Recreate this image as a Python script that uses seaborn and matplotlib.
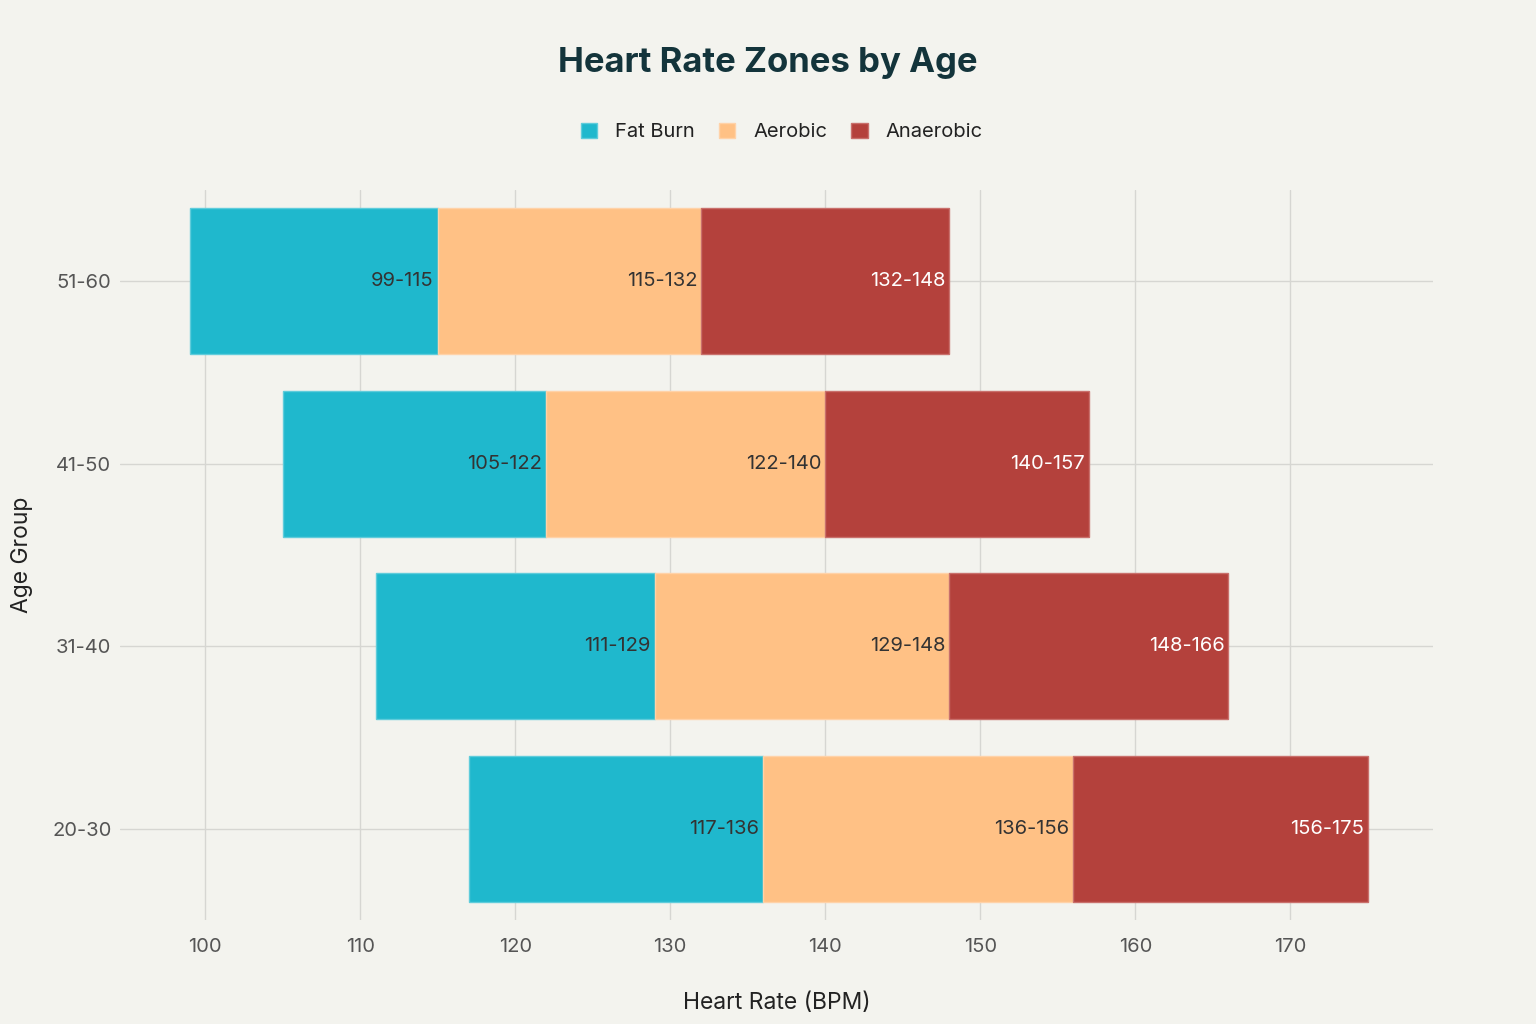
import seaborn as sns
import matplotlib.pyplot as plt
from matplotlib.patches import Patch

age_groups = ['20-30', '31-40', '41-50', '51-60']
fat_burn_low = [117, 111, 105, 99]
fat_burn_high = [136, 129, 122, 115]
aerobic_high = [156, 148, 140, 132]
anaerobic_high = [175, 166, 157, 148]

zones = ['Fat Burn', 'Aerobic', 'Anaerobic']
colors = ['#1FB8CD', '#FFC185', '#B4413C']
edges = ['#5FCCDB', '#FFD2A8', '#C9706C']
text_colors = ['#333333', '#333333', '#FFFFFF']

bg = '#F3F3EE'
sns.set_theme(style='whitegrid')
plt.rcParams['font.family'] = ['Inter', 'DejaVu Sans']

fig = plt.figure(figsize=(15.36, 10.24), dpi=100, facecolor=bg)
ax = fig.add_axes([0.078, 0.1016, 0.855, 0.713])
ax.set_facecolor(bg)

bounds = [fat_burn_low, fat_burn_high, aerobic_high, anaerobic_high]
ypos = list(range(len(age_groups)))
for i in range(3):
    lo = bounds[i]
    hi = bounds[i + 1]
    widths = [h - l for l, h in zip(lo, hi)]
    ax.barh(ypos, widths, left=lo, height=0.8, color=colors[i],
            edgecolor=edges[i], linewidth=1, zorder=3)
    for y, l, h in zip(ypos, lo, hi):
        ax.text(h - 0.25, y, f'{l}-{h}', ha='right', va='center',
                fontsize=14.5, color=text_colors[i], zorder=4)

ax.set_xlim(94.5, 179.2)
ax.set_ylim(-0.5, 3.5)
ax.set_xticks([100, 110, 120, 130, 140, 150, 160, 170])
ax.set_yticks(ypos)
ax.set_yticklabels(age_groups)
ax.tick_params(axis='both', labelsize=14.5, colors='#555555', length=0, pad=6)
ax.tick_params(axis='x', pad=13)
ax.grid(True, color='#D6D6D2', linewidth=1, zorder=0)
for s in ax.spines.values():
    s.set_visible(False)

ax.set_xlabel('Heart Rate (BPM)', fontsize=16.5, color='#222222', labelpad=26)
ax.set_ylabel('Age Group', fontsize=16.5, color='#222222', labelpad=14)

fig.text(0.5, 0.938, 'Heart Rate Zones by Age', ha='center', va='center',
         fontsize=25, fontweight='bold', color='#13343B')

handles = [Patch(facecolor=c, edgecolor=e) for c, e in zip(colors, edges)]
fig.legend(handles, zones, loc='center', bbox_to_anchor=(0.509, 0.871), ncol=3,
           frameon=False, fontsize=14.5, handlelength=0.8, handleheight=0.8,
           columnspacing=1.2, handletextpad=0.9, labelcolor='#222222')

fig.savefig('out.png', dpi=100, facecolor=bg)
